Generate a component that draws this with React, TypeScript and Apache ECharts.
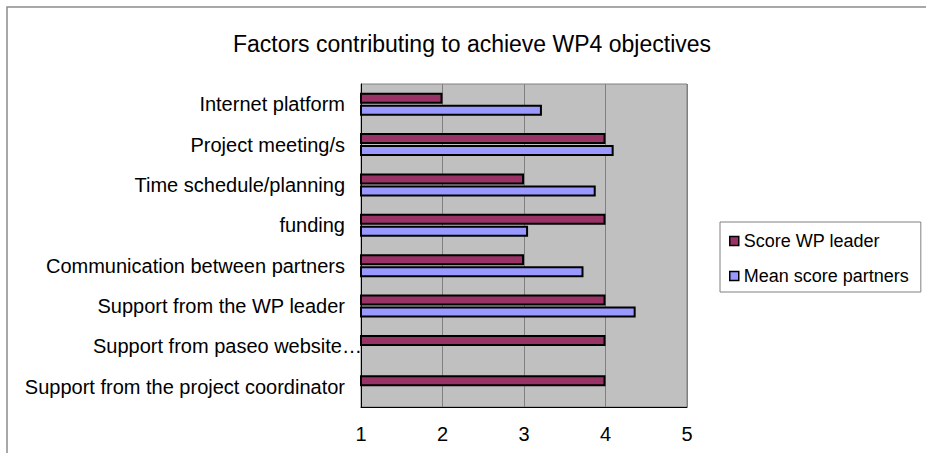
import React, { useEffect, useRef } from "react";
import * as echarts from "echarts";

const titleText = "Factors contributing to achieve WP4 objectives";
const categories = [
  "Internet platform",
  "Project meeting/s",
  "Time schedule/planning",
  "funding",
  "Communication between partners",
  "Support from the WP leader",
  "Support from paseo website…",
  "Support from the project coordinator",
];
const seriesNames = ["Score WP leader", "Mean score partners"];
const leaderScores = [2, 4, 3, 4, 3, 4, 4, 4];
const partnerScores: (number | null)[] = [3.22, 4.1, 3.88, 3.05, 3.73, 4.37, null, null];
const xTicks = { min: 1, max: 5, interval: 1 };

const FONT = "'Liberation Sans', Arial, sans-serif";

export default function App() {
  const ref = useRef<HTMLDivElement>(null);
  useEffect(() => {
    document.body.style.margin = "0";
    if (!ref.current) return;
    const chart = echarts.init(ref.current, null, { renderer: "svg" });
    chart.setOption({
      animation: false,
      backgroundColor: "#ffffff",
      textStyle: { fontFamily: FONT, color: "#000" },
      title: {
        text: titleText,
        left: 467,
        textAlign: "center",
        top: 27,
        textStyle: { fontFamily: FONT, fontSize: 23, fontWeight: "normal", color: "#000" },
      },
      graphic: [
        {
          type: "rect",
          shape: { x: 7, y: 7, width: 1200, height: 1200 },
          style: { fill: "none", stroke: "#8c8c8c", lineWidth: 1.5 },
          silent: true,
        },
      ],
      legend: {
        orient: "vertical",
        left: 720,
        top: 222,
        padding: [10, 12, 7, 9],
        itemGap: 17,
        itemWidth: 9,
        itemHeight: 9,
        icon: "rect",
        borderColor: "#808080",
        borderWidth: 1,
        backgroundColor: "#fff",
        itemStyle: { borderColor: "#000", borderWidth: 1.5 },
        textStyle: { fontFamily: FONT, fontSize: 18, color: "#000", lineHeight: 18 },
        data: seriesNames,
      },
      grid: {
        left: 361,
        right: 239,
        top: 84,
        bottom: 46,
        show: true,
        backgroundColor: "#C0C0C0",
        borderColor: "#808080",
        borderWidth: 1,
        containLabel: false,
      },
      xAxis: {
        type: "value",
        min: xTicks.min,
        max: xTicks.max,
        interval: xTicks.interval,
        axisLine: { show: true, lineStyle: { color: "#000", width: 1 } },
        axisTick: { show: false },
        splitLine: { show: true, lineStyle: { color: "#808080", width: 1 } },
        axisLabel: { fontFamily: FONT, fontSize: 20, color: "#000", margin: 17 },
      },
      yAxis: {
        type: "category",
        inverse: true,
        data: categories,
        axisLine: { show: true, lineStyle: { color: "#000", width: 1 } },
        axisTick: { show: false },
        splitLine: { show: false },
        axisLabel: {
          fontFamily: FONT,
          fontSize: 20,
          color: "#000",
          margin: 16,
          formatter: (v: string) => (v.endsWith("…") ? "{s|" + v + "}" : v),
          rich: {
            s: { fontFamily: FONT, fontSize: 20, color: "#000", padding: [0, -17, 0, 0] },
          },
        },
      },
      series: [
        {
          name: seriesNames[0],
          type: "bar",
          data: leaderScores,
          barWidth: 11,
          barGap: "8%",
          itemStyle: { color: "#993366", borderColor: "#000", borderWidth: 2 },
        },
        {
          name: seriesNames[1],
          type: "bar",
          data: partnerScores,
          barWidth: 11,
          barGap: "8%",
          itemStyle: { color: "#9999FF", borderColor: "#000", borderWidth: 2 },
        },
      ],
    });
    return () => chart.dispose();
  }, []);
  return <div ref={ref} style={{ width: 926, height: 453 }} />;
}
